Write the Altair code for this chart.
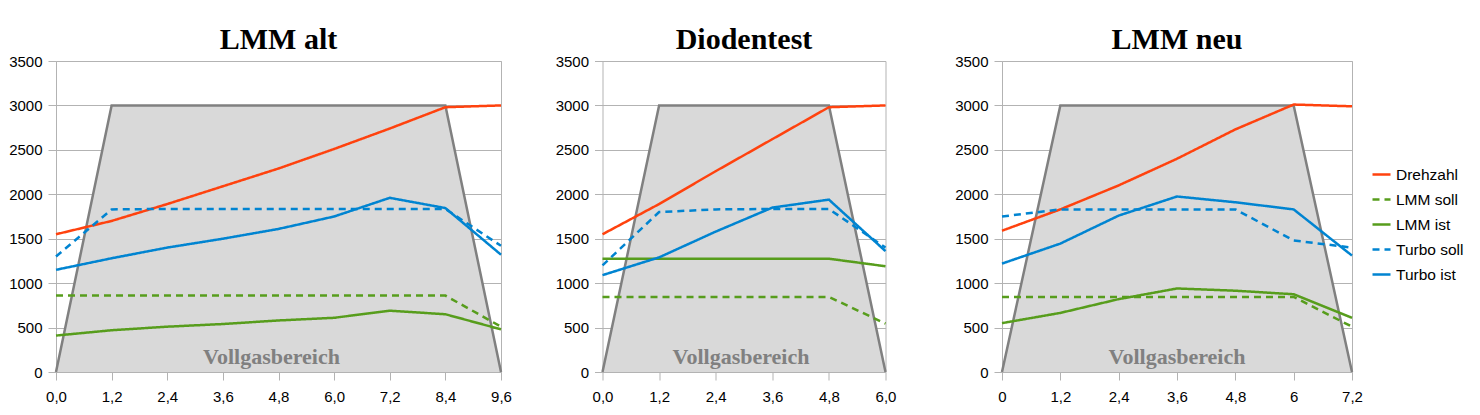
import altair as alt
import pandas as pd

series_names = ["Drehzahl", "LMM soll", "LMM ist", "Turbo soll", "Turbo ist"]
series_colors = ["#ff420e", "#579d1c", "#579d1c", "#0084d1", "#0084d1"]
series_dash = [[1, 0], [7, 5], [1, 0], [7, 5], [1, 0]]
y_ticks = [0, 500, 1000, 1500, 2000, 2500, 3000, 3500]

# Panel 1: LMM alt
x_alt = ["0,0", "1,2", "2,4", "3,6", "4,8", "6,0", "7,2", "8,4", "9,6"]
drehzahl_alt = [1550, 1700, 1890, 2090, 2290, 2510, 2740, 2980, 3000]
lmm_soll_alt = [860, 860, 860, 860, 860, 860, 860, 860, 510]
lmm_ist_alt = [410, 470, 510, 540, 580, 610, 690, 650, 480]
turbo_soll_alt = [1300, 1830, 1835, 1835, 1835, 1835, 1835, 1835, 1420]
turbo_ist_alt = [1150, 1280, 1400, 1500, 1610, 1750, 1960, 1845, 1320]
vollgas_alt = [0, 3000, 3000, 3000, 3000, 3000, 3000, 3000, 0]

# Panel 2: Diodentest
x_dio = ["0,0", "1,2", "2,4", "3,6", "4,8", "6,0"]
drehzahl_dio = [1550, 1890, 2260, 2620, 2980, 3000]
lmm_soll_dio = [845, 845, 845, 845, 845, 545]
lmm_ist_dio = [1275, 1275, 1275, 1275, 1275, 1190]
turbo_soll_dio = [1200, 1800, 1830, 1835, 1835, 1400]
turbo_ist_dio = [1090, 1290, 1580, 1850, 1940, 1360]
vollgas_dio = [0, 3000, 3000, 3000, 3000, 0]

# Panel 3: LMM neu
x_neu = ["0", "1,2", "2,4", "3,6", "4,8", "6", "7,2"]
drehzahl_neu = [1590, 1830, 2100, 2400, 2730, 3010, 2990]
lmm_soll_neu = [845, 845, 845, 845, 845, 845, 510]
lmm_ist_neu = [550, 665, 820, 940, 915, 875, 610]
turbo_soll_neu = [1750, 1830, 1830, 1830, 1830, 1480, 1400]
turbo_ist_neu = [1220, 1445, 1760, 1975, 1910, 1830, 1310]
vollgas_neu = [0, 3000, 3000, 3000, 3000, 3000, 0]

GRID = "#b3b3b3"
H = 311


def panel(title, xs, series, vollgas, width, dx, y_min_extent):
    rows = []
    for name, vals in zip(series_names, series):
        for i, (x, v) in enumerate(zip(xs, vals)):
            rows.append({"x": x, "idx": i, "series": name, "value": v})
    df = pd.DataFrame(rows)
    trap = pd.DataFrame({"x": xs, "idx": list(range(len(xs))), "value": vollgas})

    xenc = alt.X(
        "x:O",
        sort=xs,
        scale=alt.Scale(type="point", padding=0),
        axis=alt.Axis(
            title=None, labelAngle=0, grid=False, domain=False,
            tickColor=GRID, tickSize=8, labelPadding=9,
            labelFont="Liberation Sans", labelFontSize=15, labelColor="#000000",
        ),
    )
    yenc = alt.Y(
        "value:Q",
        stack=None,
        scale=alt.Scale(domain=[0, 3500], nice=False),
        axis=alt.Axis(
            title=None, values=y_ticks, format="d", grid=True, gridColor=GRID,
            domain=False, tickColor=GRID, tickSize=8, labelPadding=6,
            minExtent=y_min_extent,
            labelFont="Liberation Sans", labelFontSize=15, labelColor="#000000",
        ),
    )

    area = alt.Chart(trap).mark_area(
        fill="#d9d9d9", opacity=1,
    ).encode(x=xenc, y=yenc)
    edge = alt.Chart(trap).mark_line(
        color="#808080", strokeWidth=2.5,
    ).encode(x=xenc, y=yenc, order=alt.Order("idx:Q"))

    lines = alt.Chart(df).mark_line(strokeWidth=2.5).encode(
        x=xenc,
        y=yenc,
        color=alt.Color(
            "series:N",
            scale=alt.Scale(domain=series_names, range=series_colors),
            sort=series_names,
            legend=alt.Legend(title=None),
        ),
        strokeDash=alt.StrokeDash(
            "series:N",
            scale=alt.Scale(domain=series_names, range=series_dash),
            sort=series_names,
            legend=alt.Legend(title=None),
        ),
        order=alt.Order("idx:Q"),
    )

    label = alt.Chart(pd.DataFrame({"t": ["Vollgasbereich"]})).mark_text(
        font="Liberation Serif", fontWeight="bold", fontSize=22,
        color="#808080", baseline="alphabetic", align="center", dx=dx,
    ).encode(text="t:N", x=alt.value(width / 2), y=alt.value(H - 8))

    return alt.layer(area, edge, lines, label).properties(
        width=width, height=H,
        title=alt.TitleParams(
            title, font="Liberation Serif", fontWeight="bold", fontSize=30,
            color="#000000", offset=-1, anchor="middle",
        ),
    )


p1 = panel("LMM alt", x_alt,
           [drehzahl_alt, lmm_soll_alt, lmm_ist_alt, turbo_soll_alt, turbo_ist_alt],
           vollgas_alt, 445, -7, 0)
p2 = panel("Diodentest", x_dio,
           [drehzahl_dio, lmm_soll_dio, lmm_ist_dio, turbo_soll_dio, turbo_ist_dio],
           vollgas_dio, 283, -3, 0)
p3 = panel("LMM neu", x_neu,
           [drehzahl_neu, lmm_soll_neu, lmm_ist_neu, turbo_soll_neu, turbo_ist_neu],
           vollgas_neu, 350, 0, 61.7)

chart = alt.hconcat(p1, p2, p3, spacing=42.5).properties(
    padding={"left": 0, "top": 16, "right": 0, "bottom": 0},
).configure_view(
    stroke=GRID, strokeWidth=1,
).configure_legend(
    orient="none", legendX=1315, legendY=103, padding=0,
    symbolType="stroke", symbolSize=324, symbolStrokeWidth=2.5,
    labelFont="Liberation Sans", labelFontSize=15.5, labelColor="#000000",
    labelOffset=4, rowPadding=6, labelLimit=200,
)

chart.save("out.html", embed_options={"renderer": "svg", "actions": False})
